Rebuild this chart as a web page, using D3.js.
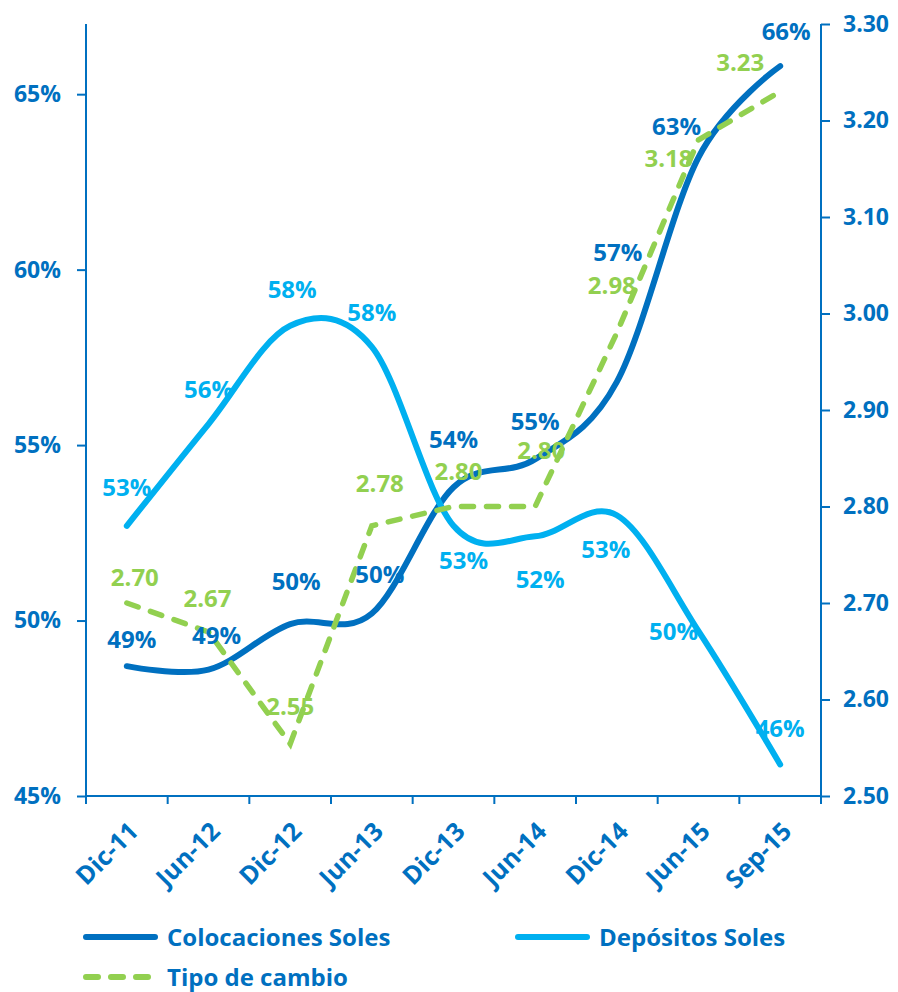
<!DOCTYPE html>
<html>
<head>
<meta charset="utf-8">
<script src="https://cdn.jsdelivr.net/npm/d3@7"></script>
<style>
  body { margin: 0; background: #fff; }
  svg text { font-family: "Open Sans", "DejaVu Sans", sans-serif; font-weight: bold; }
</style>
</head>
<body>
<div id="chart"></div>
<script>
// Data
const categories = ["Dic-11", "Jun-12", "Dic-12", "Jun-13", "Dic-13", "Jun-14", "Dic-14", "Jun-15", "Sep-15"];
const colocaciones = [48.7, 48.6, 49.9, 50.2, 53.8, 54.6, 56.8, 63.2, 65.8];
const depositos = [52.7, 55.6, 58.4, 57.8, 52.7, 52.4, 53.0, 49.7, 45.9];
const tipoCambio = [2.70, 2.67, 2.554, 2.78, 2.80, 2.80, 2.98, 3.18, 3.23];
const leftTicks = [45, 50, 55, 60, 65];
const rightTicks = [2.5, 2.6, 2.7, 2.8, 2.9, 3.0, 3.1, 3.2, 3.3];

// label nudges (px) as placed by hand in the original
const colNudge = [[5, -27], [8, -34], [6, -43], [8, -39], [0, -48], [0, -38], [1, -130], [-22, -31], [6, -35]];
const depNudge = [[0, -38], [0, -35], [2, -36], [0, -34], [10, 35], [5, 43], [-11, 34], [-25, 0], [0, -36]];
const tipNudge = [[8, -26], [-1, -34], [0, -38], [8, -42], [5, -35], [6, -56], [-5, -47], [-30, 19], [-40, -29]];

const W = 898, H = 992;
const plotL = 86, plotR = 821, plotT = 24, plotB = 796;

const dark = "#0070C0", light = "#00B0F0", green = "#92D050";

const svg = d3.select("#chart").append("svg").attr("width", W).attr("height", H);

const x = d3.scaleBand().domain(categories).range([plotL, plotR]);
const cx = d => x(d) + x.bandwidth() / 2;
const yL = d3.scaleLinear().domain([45, 67]).range([plotB, plotT]);
const yR = d3.scaleLinear().domain([2.5, 3.3]).range([plotB, plotT]);

// Axes
const axisLeft = svg.append("g").attr("transform", `translate(${plotL},0)`)
  .call(d3.axisLeft(yL).tickValues(leftTicks).tickSize(9).tickPadding(16).tickFormat(d => d + "%"));
const axisRight = svg.append("g").attr("transform", `translate(${plotR},0)`)
  .call(d3.axisRight(yR).tickValues(rightTicks).tickSize(9).tickPadding(13).tickFormat(d3.format(".2f")));
const axisBottom = svg.append("g").attr("transform", `translate(0,${plotB})`)
  .call(d3.axisBottom(x).tickSize(0).tickFormat(""));

[axisLeft, axisRight, axisBottom].forEach(g => {
  g.select(".domain").attr("stroke", dark).attr("stroke-width", 2);
  g.selectAll(".tick line").attr("stroke", dark).attr("stroke-width", 2);
  g.selectAll("text").attr("fill", dark).attr("font-size", 23);
});
axisLeft.select(".domain").attr("d", `M0,${plotT}V${plotB}`);
axisRight.select(".domain").attr("d", `M0,${plotT}V${plotB}`);
axisBottom.select(".domain").attr("d", `M${plotL},0H${plotR}`);

// bottom ticks at category boundaries
const bounds = categories.map(c => x(c)).concat([plotR]);
svg.append("g").selectAll("line").data(bounds).enter().append("line")
  .attr("x1", d => d).attr("x2", d => d)
  .attr("y1", plotB).attr("y2", plotB + 8)
  .attr("stroke", dark).attr("stroke-width", 2);

// rotated category labels
svg.append("g").selectAll("text").data(categories).enter().append("text")
  .attr("transform", d => `translate(${cx(d) + 13},${833}) rotate(-45)`)
  .attr("text-anchor", "end")
  .attr("fill", dark).attr("font-size", 25)
  .text(d => d);

// Lines
const smooth = d3.line().curve(d3.curveCardinal.tension(0));
const straight = d3.line();

function pts(vals, y) { return vals.map((v, i) => [cx(categories[i]), y(v)]); }

svg.append("path").attr("d", smooth(pts(colocaciones, yL)))
  .attr("fill", "none").attr("stroke", dark).attr("stroke-width", 6).attr("stroke-linecap", "round");
svg.append("path").attr("d", smooth(pts(depositos, yL)))
  .attr("fill", "none").attr("stroke", light).attr("stroke-width", 6).attr("stroke-linecap", "round");
svg.append("path").attr("d", straight(pts(tipoCambio, yR)))
  .attr("fill", "none").attr("stroke", green).attr("stroke-width", 5.5)
  .attr("stroke-linecap", "round").attr("stroke-dasharray", "12,13");

// Data labels
function labels(vals, y, nudge, color, fmt) {
  svg.append("g").selectAll("text").data(vals).enter().append("text")
    .attr("x", (d, i) => cx(categories[i]) + nudge[i][0])
    .attr("y", (d, i) => y(d) + nudge[i][1])
    .attr("dy", "0.36em")
    .attr("text-anchor", "middle")
    .attr("fill", color).attr("font-size", 24)
    .text(fmt);
}
labels(colocaciones, yL, colNudge, dark, d => Math.round(d) + "%");
labels(depositos, yL, depNudge, light, d => Math.round(d) + "%");
labels(tipoCambio, yR, tipNudge, green, d3.format(".2f"));

// Legend
const legend = [
  {name: "Colocaciones Soles", color: dark, dash: null, lx: 83, ly: 937},
  {name: "Depósitos Soles", color: light, dash: null, lx: 515, ly: 937},
  {name: "Tipo de cambio", color: green, dash: "12,13", lx: 83, ly: 977}
];
const lg = svg.append("g").selectAll("g").data(legend).enter().append("g");
lg.append("line")
  .attr("x1", d => d.lx + 3).attr("x2", d => d.lx + 72)
  .attr("y1", d => d.ly).attr("y2", d => d.ly)
  .attr("stroke", d => d.color).attr("stroke-width", 6).attr("stroke-linecap", "round")
  .attr("stroke-dasharray", d => d.dash);
lg.append("text")
  .attr("x", d => d.lx + 84).attr("y", d => d.ly)
  .attr("dy", "0.36em")
  .attr("fill", dark).attr("font-size", 24)
  .text(d => d.name);
</script>
</body>
</html>
